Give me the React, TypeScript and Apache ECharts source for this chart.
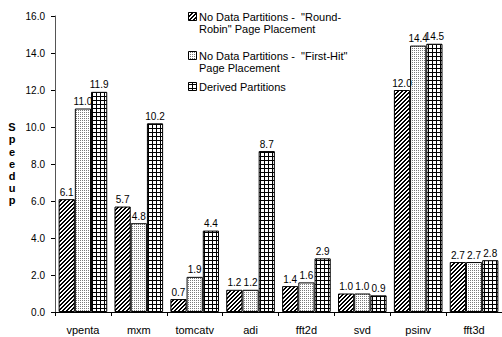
import React, { useEffect, useRef } from "react";
import * as echarts from "echarts";

const categories = ["vpenta", "mxm", "tomcatv", "adi", "fft2d", "svd", "psinv", "fft3d"];
const roundRobin = [6.1, 5.7, 0.7, 1.2, 1.4, 1.0, 12.0, 2.7];
const firstHit = [11.0, 4.8, 1.9, 1.2, 1.6, 1.0, 14.4, 2.7];
const derived = [11.9, 10.2, 4.4, 8.7, 2.9, 0.9, 14.5, 2.8];
const seriesNames = [
  'No Data Partitions -  "Round-Robin" Page Placement',
  'No Data Partitions -  "First-Hit" Page Placement',
  "Derived Partitions",
];
const legendLines = [
  ['No Data Partitions -  "Round-', 'Robin" Page Placement'],
  ['No Data Partitions -  "First-Hit"', "Page Placement"],
  ["Derived Partitions"],
];
const yMin = 0;
const yMax = 16;
const yInterval = 2;
const yName = "Speedup";

const FONT = "'Liberation Sans', Arial, sans-serif";

function makePattern(size: number, fn: (x: number, y: number) => string | null) {
  const c = document.createElement("canvas");
  c.width = size;
  c.height = size;
  const ctx = c.getContext("2d")!;
  ctx.fillStyle = "#ffffff";
  ctx.fillRect(0, 0, size, size);
  for (let y = 0; y < size; y++) {
    for (let x = 0; x < size; x++) {
      const col = fn(x, y);
      if (col) {
        ctx.fillStyle = col;
        ctx.fillRect(x, y, 1, 1);
      }
    }
  }
  return { image: c.toDataURL(), repeat: "repeat", imageWidth: size, imageHeight: size } as any;
}

export default function App() {
  const ref = useRef<HTMLDivElement>(null);
  useEffect(() => {
    if (!ref.current) return;
    const chart = echarts.init(ref.current, undefined, { renderer: "svg" });
    const hatch = makePattern(4, (x, y) => ((x + y) % 4 < 2 ? "#000000" : null));
    const dots = makePattern(2, (x, y) => (x % 2 === 0 && y % 2 === 0 ? "#7a7a7a" : null));
    const grid = makePattern(4, (x, y) => (x === 0 || y === 0 ? "#000000" : null));
    const patterns = [hatch, dots, grid];
    const datasets = [roundRobin, firstHit, derived];

    const legendGraphics: any[] = [];
    const legendTops = [12, 51, 82];
    legendLines.forEach((lines, i) => {
      legendGraphics.push({
        type: "rect",
        shape: { x: 188.5, y: legendTops[i] + 0.5, width: 8, height: 8 },
        style: { fill: patterns[i], stroke: "#000", lineWidth: 1 },
      });
      legendGraphics.push({
        type: "text",
        x: 199,
        y: legendTops[i] - 1.5,
        style: {
          text: lines.join("\n"),
          font: `11px ${FONT}`,
          fill: "#000",
          lineHeight: 12.5,
          textAlign: "left",
          textVerticalAlign: "top",
        },
      });
    });

    chart.setOption({
      animation: false,
      textStyle: { fontFamily: FONT },
      grid: { left: 55, right: -9, top: 16, bottom: 25, containLabel: false },
      xAxis: {
        type: "category",
        data: categories,
        axisLine: { lineStyle: { color: "#000", width: 1 } },
        axisTick: { show: true, length: 4, lineStyle: { color: "#000" } },
        axisLabel: { color: "#000", fontSize: 11, margin: 12, fontFamily: FONT },
      },
      yAxis: {
        type: "value",
        min: yMin,
        max: yMax,
        interval: yInterval,
        splitLine: { show: false },
        axisLine: { show: true, lineStyle: { color: "#555", width: 1 } },
        axisTick: { show: true, length: 4, lineStyle: { color: "#000" } },
        axisLabel: {
          color: "#000",
          fontSize: 10,
          margin: 10,
          fontFamily: FONT,
          formatter: (v: number) => v.toFixed(1),
        },
      },
      series: datasets.map((d, i) => ({
        type: "bar",
        name: seriesNames[i],
        data: d,
        barGap: "0%",
        barCategoryGap: "13%",
        itemStyle: { color: patterns[i], borderColor: "#000", borderWidth: 1 },
        label: {
          show: true,
          position: "top",
          distance: 2,
          color: "#000",
          fontSize: 10,
          fontFamily: FONT,
          formatter: (p: any) => Number(p.value).toFixed(1),
        },
      })),
      graphic: [
        {
          type: "text",
          x: 12,
          y: 121,
          style: {
            text: yName.split("").join("\n"),
            font: `bold 11px ${FONT}`,
            fill: "#000",
            lineHeight: 12.2,
            textAlign: "center",
            textVerticalAlign: "top",
          },
        },
        ...legendGraphics,
      ],
    });
    return () => chart.dispose();
  }, []);
  return (
    <div
      ref={ref}
      style={{ position: "fixed", left: 0, top: 0, width: 502, height: 337, background: "#fff", overflow: "hidden" }}
    />
  );
}
